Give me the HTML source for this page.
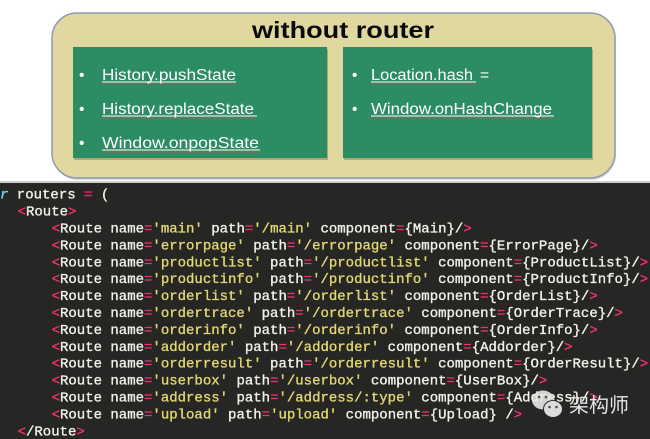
<!DOCTYPE html>
<html>
<head>
<meta charset="utf-8">
<style>
html,body{margin:0;padding:0;background:#fff;}
svg{display:block;}
.code{font-family:"Liberation Mono",monospace;font-size:14px;stroke-width:0.35;}
.w{fill:#f2f2ea;stroke:#f2f2ea;}
.p{fill:#f2306f;stroke:#f2306f;}
.y{fill:#e3d773;stroke:#e3d773;}
.c{fill:#66d9ef;stroke:#66d9ef;font-style:italic;}
.b{font-family:"Liberation Sans",sans-serif;font-size:15.5px;fill:#ffffff;}
</style>
</head>
<body>
<svg width="650" height="439" viewBox="0 0 650 439" xmlns="http://www.w3.org/2000/svg">
  <rect x="0" y="0" width="650" height="439" fill="#ffffff"/>
  <!-- outer box -->
  <rect x="53" y="15" width="563" height="165" rx="25" fill="#b9b8b0" opacity="0.5"/>
  <rect x="52" y="13" width="563" height="165" rx="25" fill="#e0d89f" stroke="#8e9ab0" stroke-width="1.5"/>
  <!-- title -->
  <text x="252" y="38" font-family="'Liberation Sans',sans-serif" font-weight="bold" font-size="23" fill="#0a0a0a" textLength="182" lengthAdjust="spacingAndGlyphs">without router</text>
  <!-- green boxes -->
  <rect x="74" y="49" width="254" height="111" fill="#8a8a60" opacity="0.6"/>
  <rect x="73" y="47" width="254" height="111" fill="#2c8c64"/>
  <rect x="344" y="49" width="249" height="111" fill="#8a8a60" opacity="0.6"/>
  <rect x="343" y="47" width="249" height="111" fill="#2c8c64"/>

  <!-- left bullets -->
  <text class="b" x="79" y="80">•</text>
  <text class="b" x="102" y="80" textLength="134" lengthAdjust="spacingAndGlyphs">History.pushState</text>
  <line x1="102" y1="82" x2="236" y2="82" stroke="#fff" stroke-width="1"/>
  <line x1="102" y1="84" x2="236" y2="84" stroke="#c8504a" stroke-width="1" stroke-dasharray="1.5,1"/>

  <text class="b" x="79" y="114">•</text>
  <text class="b" x="102" y="114" textLength="152" lengthAdjust="spacingAndGlyphs">History.replaceState</text>
  <line x1="102" y1="116" x2="257" y2="116" stroke="#fff" stroke-width="1"/>
  <line x1="102" y1="118" x2="257" y2="118" stroke="#c8504a" stroke-width="1" stroke-dasharray="1.5,1"/>

  <text class="b" x="79" y="148">•</text>
  <text class="b" x="102" y="148" textLength="157" lengthAdjust="spacingAndGlyphs">Window.onpopState</text>
  <line x1="102" y1="150" x2="260" y2="150" stroke="#fff" stroke-width="1"/>
  <line x1="102" y1="152" x2="260" y2="152" stroke="#c8504a" stroke-width="1" stroke-dasharray="1.5,1"/>

  <!-- right bullets -->
  <text class="b" x="352" y="80">•</text>
  <text class="b" x="371" y="80" textLength="102" lengthAdjust="spacingAndGlyphs">Location.hash</text>
  <text class="b" x="480" y="80">=</text>
  <line x1="371" y1="82" x2="476" y2="82" stroke="#fff" stroke-width="1"/>
  <line x1="371" y1="84" x2="476" y2="84" stroke="#c8504a" stroke-width="1" stroke-dasharray="1.5,1"/>

  <text class="b" x="352" y="114">•</text>
  <text class="b" x="371" y="114" textLength="181" lengthAdjust="spacingAndGlyphs">Window.onHashChange</text>
  <line x1="371" y1="116" x2="554" y2="116" stroke="#fff" stroke-width="1"/>
  <line x1="371" y1="118" x2="554" y2="118" stroke="#c8504a" stroke-width="1" stroke-dasharray="1.5,1"/>

  <!-- code area -->
  <rect x="0" y="181" width="650" height="2" fill="#9a9a9a" opacity="0.5"/>
  <rect x="0" y="183" width="650" height="256" fill="#262624"/>

  <g class="code" xml:space="preserve">
    <text y="198.7"><tspan x="0" class="c">r</tspan><tspan class="w"> routers </tspan><tspan class="p">=</tspan><tspan class="w"> (</tspan></text>
    <text y="215.6"><tspan x="17.6" class="p">&lt;</tspan><tspan class="w">Route</tspan><tspan class="p">&gt;</tspan></text>

    <text y="232.5"><tspan x="51.6" class="p">&lt;</tspan><tspan class="w">Route name</tspan><tspan class="p">=</tspan><tspan class="y">'main'</tspan><tspan class="w"> path</tspan><tspan class="p">=</tspan><tspan class="y">'/main'</tspan><tspan class="w"> component</tspan><tspan class="p">=</tspan><tspan class="w">{Main}/</tspan><tspan class="p">&gt;</tspan></text>
    <text y="249.4"><tspan x="51.6" class="p">&lt;</tspan><tspan class="w">Route name</tspan><tspan class="p">=</tspan><tspan class="y">'errorpage'</tspan><tspan class="w"> path</tspan><tspan class="p">=</tspan><tspan class="y">'/errorpage'</tspan><tspan class="w"> component</tspan><tspan class="p">=</tspan><tspan class="w">{ErrorPage}/</tspan><tspan class="p">&gt;</tspan></text>
    <text y="266.3"><tspan x="51.6" class="p">&lt;</tspan><tspan class="w">Route name</tspan><tspan class="p">=</tspan><tspan class="y">'productlist'</tspan><tspan class="w"> path</tspan><tspan class="p">=</tspan><tspan class="y">'/productlist'</tspan><tspan class="w"> component</tspan><tspan class="p">=</tspan><tspan class="w">{ProductList}/</tspan><tspan class="p">&gt;</tspan></text>
    <text y="283.2"><tspan x="51.6" class="p">&lt;</tspan><tspan class="w">Route name</tspan><tspan class="p">=</tspan><tspan class="y">'productinfo'</tspan><tspan class="w"> path</tspan><tspan class="p">=</tspan><tspan class="y">'/productinfo'</tspan><tspan class="w"> component</tspan><tspan class="p">=</tspan><tspan class="w">{ProductInfo}/</tspan><tspan class="p">&gt;</tspan></text>
    <text y="300.1"><tspan x="51.6" class="p">&lt;</tspan><tspan class="w">Route name</tspan><tspan class="p">=</tspan><tspan class="y">'orderlist'</tspan><tspan class="w"> path</tspan><tspan class="p">=</tspan><tspan class="y">'/orderlist'</tspan><tspan class="w"> component</tspan><tspan class="p">=</tspan><tspan class="w">{OrderList}/</tspan><tspan class="p">&gt;</tspan></text>
    <text y="317"><tspan x="51.6" class="p">&lt;</tspan><tspan class="w">Route name</tspan><tspan class="p">=</tspan><tspan class="y">'ordertrace'</tspan><tspan class="w"> path</tspan><tspan class="p">=</tspan><tspan class="y">'/ordertrace'</tspan><tspan class="w"> component</tspan><tspan class="p">=</tspan><tspan class="w">{OrderTrace}/</tspan><tspan class="p">&gt;</tspan></text>
    <text y="333.9"><tspan x="51.6" class="p">&lt;</tspan><tspan class="w">Route name</tspan><tspan class="p">=</tspan><tspan class="y">'orderinfo'</tspan><tspan class="w"> path</tspan><tspan class="p">=</tspan><tspan class="y">'/orderinfo'</tspan><tspan class="w"> component</tspan><tspan class="p">=</tspan><tspan class="w">{OrderInfo}/</tspan><tspan class="p">&gt;</tspan></text>
    <text y="350.8"><tspan x="51.6" class="p">&lt;</tspan><tspan class="w">Route name</tspan><tspan class="p">=</tspan><tspan class="y">'addorder'</tspan><tspan class="w"> path</tspan><tspan class="p">=</tspan><tspan class="y">'/addorder'</tspan><tspan class="w"> component</tspan><tspan class="p">=</tspan><tspan class="w">{Addorder}/</tspan><tspan class="p">&gt;</tspan></text>
    <text y="367.7"><tspan x="51.6" class="p">&lt;</tspan><tspan class="w">Route name</tspan><tspan class="p">=</tspan><tspan class="y">'orderresult'</tspan><tspan class="w"> path</tspan><tspan class="p">=</tspan><tspan class="y">'/orderresult'</tspan><tspan class="w"> component</tspan><tspan class="p">=</tspan><tspan class="w">{OrderResult}/</tspan><tspan class="p">&gt;</tspan></text>
    <text y="384.6"><tspan x="51.6" class="p">&lt;</tspan><tspan class="w">Route name</tspan><tspan class="p">=</tspan><tspan class="y">'userbox'</tspan><tspan class="w"> path</tspan><tspan class="p">=</tspan><tspan class="y">'/userbox'</tspan><tspan class="w"> component</tspan><tspan class="p">=</tspan><tspan class="w">{UserBox}/</tspan><tspan class="p">&gt;</tspan></text>
    <text y="401.5"><tspan x="51.6" class="p">&lt;</tspan><tspan class="w">Route name</tspan><tspan class="p">=</tspan><tspan class="y">'address'</tspan><tspan class="w"> path</tspan><tspan class="p">=</tspan><tspan class="y">'/address/:type'</tspan><tspan class="w"> component</tspan><tspan class="p">=</tspan><tspan class="w">{Address}/</tspan><tspan class="p">&gt;</tspan></text>
    <text y="418.4"><tspan x="51.6" class="p">&lt;</tspan><tspan class="w">Route name</tspan><tspan class="p">=</tspan><tspan class="y">'upload'</tspan><tspan class="w"> path</tspan><tspan class="p">=</tspan><tspan class="y">'upload'</tspan><tspan class="w"> component</tspan><tspan class="p">=</tspan><tspan class="w">{Upload} /</tspan><tspan class="p">&gt;</tspan></text>
    <text y="435.3"><tspan x="17.6" class="p">&lt;</tspan><tspan class="w">/Route</tspan><tspan class="p">&gt;</tspan></text>
  </g>

  <!-- watermark -->
  <g opacity="0.9">
    <ellipse cx="543" cy="400" rx="11" ry="9.5" fill="#e6e6e6"/>
    <ellipse cx="553" cy="409" rx="9.5" ry="8.5" fill="#f0f0f0" stroke="#262624" stroke-width="1"/>
    <circle cx="549.5" cy="407" r="1.3" fill="#555"/>
    <circle cx="556.5" cy="407" r="1.3" fill="#555"/>
    <circle cx="539" cy="397" r="1.3" fill="#555"/>
    <circle cx="546" cy="397" r="1.3" fill="#555"/>
  </g>
  <text x="569" y="412" font-family="'Liberation Sans','Noto Sans CJK SC',sans-serif" font-size="20" fill="#e4e4e4">架构师</text>
</svg>
</body>
</html>
